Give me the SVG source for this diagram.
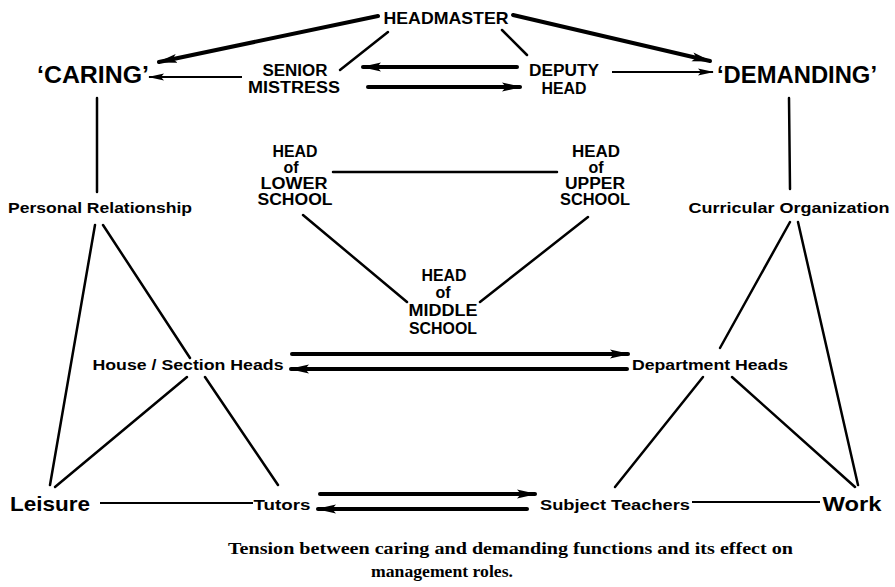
<svg xmlns="http://www.w3.org/2000/svg" width="895" height="587" viewBox="0 0 895 587">
<style>
.t{font-family:"Liberation Sans",Arial,sans-serif;font-weight:bold;fill:#000;text-anchor:middle}
.cap{font-family:"Liberation Serif","Times New Roman",serif;font-weight:bold;fill:#000;font-size:17.5px}
.thick{stroke:#000;stroke-width:4;fill:none;stroke-linecap:round}
.thin{stroke:#000;stroke-width:2.5;fill:none;stroke-linecap:round}
.fine{stroke:#000;stroke-width:2;fill:none}
</style>
<defs>
<marker id="ah" markerUnits="userSpaceOnUse" markerWidth="20" markerHeight="10" refX="18" refY="5" orient="auto" viewBox="0 0 20 10">
<path d="M0,0.5 L20,5 L0,9.5 L4,5 z" fill="#000"/>
</marker>
<marker id="as" markerUnits="userSpaceOnUse" markerWidth="16" markerHeight="8" refX="15" refY="4" orient="auto" viewBox="0 0 16 8">
<path d="M0,0.5 L16,4 L0,7.5 L3,4 z" fill="#000"/>
</marker>
</defs>
<g id="connectors">
<line class="thick" x1="378" y1="16" x2="159" y2="62" marker-end="url(#ah)"/>
<line class="thick" x1="513" y1="15" x2="710" y2="61" marker-end="url(#ah)"/>
<line class="thin" x1="388" y1="32" x2="340" y2="70"/>
<line class="thin" x1="502" y1="30" x2="527" y2="55"/>
<line class="fine" x1="242" y1="77" x2="149" y2="77" marker-end="url(#as)"/>
<line class="fine" x1="612" y1="72" x2="713" y2="72" marker-end="url(#as)"/>
<line class="thick" x1="517" y1="67" x2="363" y2="67" marker-end="url(#ah)"/>
<line class="thick" x1="368" y1="87" x2="520" y2="87" marker-end="url(#ah)"/>
<line class="thin" x1="97" y1="98" x2="97" y2="192"/>
<line class="thin" x1="789" y1="98" x2="790" y2="189"/>
<line class="thin" x1="333" y1="172" x2="557" y2="172"/>
<line class="thin" x1="303" y1="215" x2="407" y2="302"/>
<line class="thin" x1="588" y1="217" x2="480" y2="302"/>
<line class="thin" x1="95" y1="225" x2="50" y2="485"/>
<line class="thin" x1="103" y1="225" x2="190" y2="358"/>
<line class="thin" x1="187" y1="377" x2="55" y2="487"/>
<line class="thin" x1="205" y1="377" x2="278" y2="485"/>
<line class="thin" x1="790" y1="222" x2="720" y2="348"/>
<line class="thin" x1="798" y1="222" x2="858" y2="485"/>
<line class="thin" x1="703" y1="377" x2="615" y2="487"/>
<line class="thin" x1="732" y1="377" x2="855" y2="487"/>
<line class="thick" x1="292" y1="354" x2="628" y2="354" marker-end="url(#ah)"/>
<line class="thick" x1="627" y1="369" x2="291" y2="369" marker-end="url(#ah)"/>
<line class="fine" x1="100" y1="503" x2="253" y2="503"/>
<line class="fine" x1="692" y1="502" x2="820" y2="502"/>
<line class="thick" x1="320" y1="494" x2="535" y2="494" marker-end="url(#ah)"/>
<line class="thick" x1="527" y1="509" x2="318" y2="509" marker-end="url(#ah)"/>
</g>
<g id="headmaster"><text class="t" x="446" y="24" font-size="17" textLength="125" lengthAdjust="spacingAndGlyphs">HEADMASTER</text></g>
<g id="senior-mistress">
<text class="t" x="295" y="76" font-size="16" textLength="65" lengthAdjust="spacingAndGlyphs">SENIOR</text>
<text class="t" x="294" y="93" font-size="16" textLength="92" lengthAdjust="spacingAndGlyphs">MISTRESS</text>
</g>
<g id="deputy-head">
<text class="t" x="564" y="76" font-size="16" textLength="70" lengthAdjust="spacingAndGlyphs">DEPUTY</text>
<text class="t" x="564" y="94" font-size="16" textLength="45" lengthAdjust="spacingAndGlyphs">HEAD</text>
</g>
<g id="caring"><text class="t" x="93" y="83" font-size="24" textLength="112" lengthAdjust="spacingAndGlyphs">‘CARING’</text></g>
<g id="demanding"><text class="t" x="797" y="83" font-size="24" textLength="160" lengthAdjust="spacingAndGlyphs">‘DEMANDING’</text></g>
<g id="personal-relationship"><text class="t" x="100" y="213" font-size="15" textLength="184" lengthAdjust="spacingAndGlyphs">Personal Relationship</text></g>
<g id="curricular-organization"><text class="t" x="789" y="213" font-size="15" textLength="201" lengthAdjust="spacingAndGlyphs">Curricular Organization</text></g>
<g id="head-lower-school">
<text class="t" x="295" y="157" font-size="16" textLength="45" lengthAdjust="spacingAndGlyphs">HEAD</text>
<text class="t" x="291" y="173" font-size="16">of</text>
<text class="t" x="294" y="189" font-size="16" textLength="67" lengthAdjust="spacingAndGlyphs">LOWER</text>
<text class="t" x="295" y="205" font-size="16" textLength="75" lengthAdjust="spacingAndGlyphs">SCHOOL</text>
</g>
<g id="head-upper-school">
<text class="t" x="596" y="157" font-size="16" textLength="48" lengthAdjust="spacingAndGlyphs">HEAD</text>
<text class="t" x="596" y="173" font-size="16">of</text>
<text class="t" x="595" y="189" font-size="16" textLength="60" lengthAdjust="spacingAndGlyphs">UPPER</text>
<text class="t" x="595" y="205" font-size="16" textLength="70" lengthAdjust="spacingAndGlyphs">SCHOOL</text>
</g>
<g id="head-middle-school">
<text class="t" x="444" y="281" font-size="16" textLength="45" lengthAdjust="spacingAndGlyphs">HEAD</text>
<text class="t" x="443" y="298" font-size="16">of</text>
<text class="t" x="443" y="316" font-size="16" textLength="69" lengthAdjust="spacingAndGlyphs">MIDDLE</text>
<text class="t" x="443" y="334" font-size="16" textLength="68" lengthAdjust="spacingAndGlyphs">SCHOOL</text>
</g>
<g id="house-section-heads"><text class="t" x="188" y="370" font-size="15" textLength="191" lengthAdjust="spacingAndGlyphs">House / Section Heads</text></g>
<g id="department-heads"><text class="t" x="710" y="370" font-size="15" textLength="156" lengthAdjust="spacingAndGlyphs">Department Heads</text></g>
<g id="leisure"><text class="t" x="50" y="511" font-size="21" textLength="80" lengthAdjust="spacingAndGlyphs">Leisure</text></g>
<g id="tutors"><text class="t" x="282" y="510" font-size="15" textLength="57" lengthAdjust="spacingAndGlyphs">Tutors</text></g>
<g id="subject-teachers"><text class="t" x="615" y="510" font-size="15" textLength="150" lengthAdjust="spacingAndGlyphs">Subject Teachers</text></g>
<g id="work"><text class="t" x="852" y="511" font-size="21" textLength="59" lengthAdjust="spacingAndGlyphs">Work</text></g>
<g id="caption">
<text class="cap" x="228" y="554" textLength="565" lengthAdjust="spacingAndGlyphs">Tension between caring and demanding functions and its effect on</text>
<text class="cap" x="442" y="577" text-anchor="middle" textLength="142" lengthAdjust="spacingAndGlyphs">management roles.</text>
</g>
</svg>
